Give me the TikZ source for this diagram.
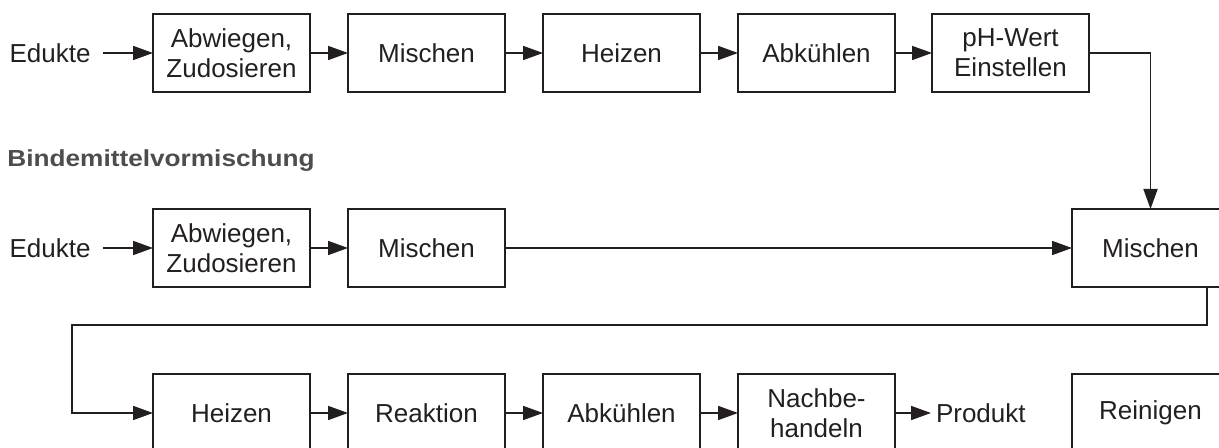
\documentclass[tikz,border=0pt]{standalone}
\usepackage{fontspec}
\setmainfont{Liberation Sans}
\newfontfamily\lblfont[FakeStretch=1.13]{Liberation Sans Bold}
\usetikzlibrary{arrows.meta}
\definecolor{ink}{HTML}{231F20}
\definecolor{lbl}{HTML}{4D4D4D}
\tikzset{
  stepbox/.style={draw=ink, line width=0.9pt, minimum width=78.5pt, minimum height=39pt,
    inner sep=0pt, outer sep=0pt, align=center, text=ink,
    font=\fontsize{13pt}{15pt}\selectfont},
  plain/.style={text=ink, font=\fontsize{13pt}{15pt}\selectfont, inner sep=0pt, outer sep=0pt},
  arr/.style={draw=ink, line width=0.85pt, -{Triangle[length=10pt,width=7pt]}},
  ln/.style={draw=ink, line width=0.85pt}
}
\begin{document}
\begin{tikzpicture}[x=0.5pt,y=-0.5pt]
\useasboundingbox (0,0) rectangle (1219,448);
\clip (0,0) rectangle (1219,448);
% row 1
\node[plain, inner xsep=6.25pt] (ed1) at (50,53) {Edukte};
\node[stepbox] (a1) at (231.5,53) {Abwiegen,\\Zudosieren};
\node[stepbox] (a2) at (426.5,53) {Mischen};
\node[stepbox] (a3) at (621.5,53) {Heizen};
\node[stepbox] (a4) at (816.5,53) {Abkühlen};
\node[stepbox] (a5) at (1010.5,53) {pH-Wert\\Einstellen};
% label
\node[anchor=base west, inner sep=0pt, text=lbl, font=\lblfont\fontsize{11.6pt}{13pt}\selectfont] (lab) at (7,166.7) {Bindemittelvormischung};
% row 2
\node[plain, inner xsep=6.25pt] (ed2) at (50,248) {Edukte};
\node[stepbox] (b1) at (231.5,248) {Abwiegen,\\Zudosieren};
\node[stepbox] (b2) at (426.5,248) {Mischen};
\node[stepbox] (m3) at (1150.5,248) {Mischen};
% row 3
\node[stepbox] (c1) at (231.5,413) {Heizen};
\node[stepbox] (c2) at (426.5,413) {Reaktion};
\node[stepbox] (c3) at (621.5,413) {Abkühlen};
\node[stepbox] (c4) at (816.5,413) {Nachbe-\\handeln};
\node[plain, anchor=west, inner xsep=2.5pt] (prod) at (931,413) {Produkt};
\node[stepbox] (rein) at (1150.5,413) {Reinigen};
\coordinate (turn) at (72,325);
% connectors
\draw[arr] (ed1.east) -- (a1.west);
\draw[arr] (a1.east) -- (a2.west);
\draw[arr] (a2.east) -- (a3.west);
\draw[arr] (a3.east) -- (a4.west);
\draw[arr] (a4.east) -- (a5.west);
\draw[arr] (a5.east) -| (m3.north);
\draw[arr] (ed2.east) -- (b1.west);
\draw[arr] (b1.east) -- (b2.west);
\draw[arr] (b2.east) -- (m3.west);
\draw[arr] ([xshift=-11pt]m3.south east) |- (turn) |- (c1.west);
\draw[arr] (c1.east) -- (c2.west);
\draw[arr] (c2.east) -- (c3.west);
\draw[arr] (c3.east) -- (c4.west);
\draw[arr] (c4.east) -- (prod.west);
\end{tikzpicture}
\end{document}
